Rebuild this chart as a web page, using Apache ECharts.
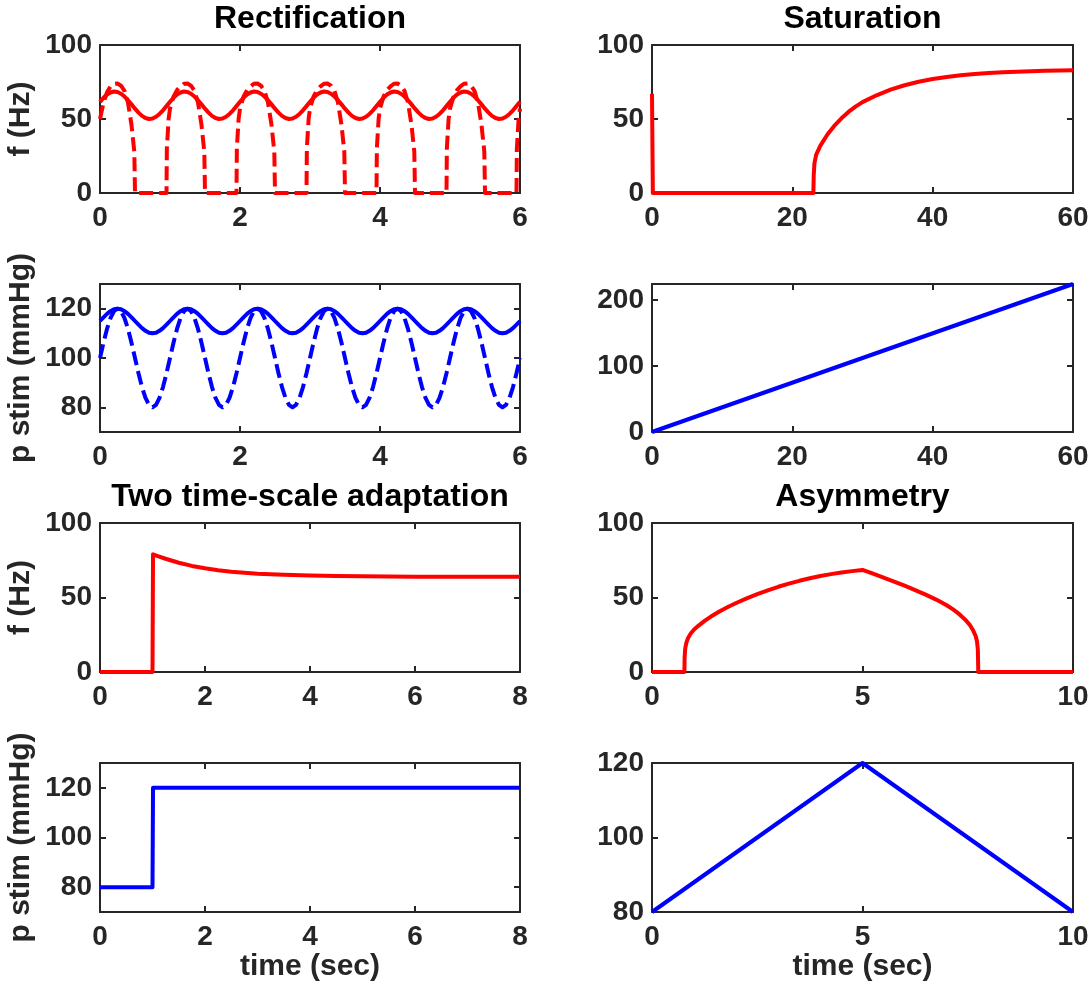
<!DOCTYPE html>
<html>
<head>
<meta charset="utf-8">
<title>Baroreceptor firing-rate responses</title>
<script src="https://cdn.jsdelivr.net/npm/echarts@6/dist/echarts.min.js"></script>
<style>
  html, body { margin: 0; padding: 0; background: #ffffff; }
  #chart { width: 1092px; height: 998px; }
</style>
</head>
<body>
<div id="chart"></div>
<script>
// ---------- Rectification (sinusoidal pressure, 1 Hz) ----------
const rectTime = [
  0,0.05,0.1,0.15,0.2,0.25,0.3,0.35,0.4,0.45,0.5,0.55,0.6,0.65,0.7,0.75,0.8,0.85,0.9,0.95,
  1,1.05,1.1,1.15,1.2,1.25,1.3,1.35,1.4,1.45,1.5,1.55,1.6,1.65,1.7,1.75,1.8,1.85,1.9,1.95,
  2,2.05,2.1,2.15,2.2,2.25,2.3,2.35,2.4,2.45,2.5,2.55,2.6,2.65,2.7,2.75,2.8,2.85,2.9,2.95,
  3,3.05,3.1,3.15,3.2,3.25,3.3,3.35,3.4,3.45,3.5,3.55,3.6,3.65,3.7,3.75,3.8,3.85,3.9,3.95,
  4,4.05,4.1,4.15,4.2,4.25,4.3,4.35,4.4,4.45,4.5,4.55,4.6,4.65,4.7,4.75,4.8,4.85,4.9,4.95,
  5,5.05,5.1,5.15,5.2,5.25,5.3,5.35,5.4,5.45,5.5,5.55,5.6,5.65,5.7,5.75,5.8,5.85,5.9,5.95,
  6
];
// firing rate for the small-amplitude stimulus (solid)
const rectRateSmall = [
  61.6,64.3,66.5,67.9,68.6,68.3,67.1,65.2,62.7,59.9,57,54.3,52.1,50.7,50,50.3,51.5,53.4,55.9,58.7,
  61.6,64.3,66.5,67.9,68.6,68.3,67.1,65.2,62.7,59.9,57,54.3,52.1,50.7,50,50.3,51.5,53.4,55.9,58.7,
  61.6,64.3,66.5,67.9,68.6,68.3,67.1,65.2,62.7,59.9,57,54.3,52.1,50.7,50,50.3,51.5,53.4,55.9,58.7,
  61.6,64.3,66.5,67.9,68.6,68.3,67.1,65.2,62.7,59.9,57,54.3,52.1,50.7,50,50.3,51.5,53.4,55.9,58.7,
  61.6,64.3,66.5,67.9,68.6,68.3,67.1,65.2,62.7,59.9,57,54.3,52.1,50.7,50,50.3,51.5,53.4,55.9,58.7,
  61.6,64.3,66.5,67.9,68.6,68.3,67.1,65.2,62.7,59.9,57,54.3,52.1,50.7,50,50.3,51.5,53.4,55.9,58.7,
  61.6
];
// small-amplitude pressure (solid)
const rectPressSmall = [
  115,116.5,117.9,119,119.8,120,119.8,119,117.9,116.5,115,113.5,112.1,111,110.2,110,110.2,111,112.1,113.5,
  115,116.5,117.9,119,119.8,120,119.8,119,117.9,116.5,115,113.5,112.1,111,110.2,110,110.2,111,112.1,113.5,
  115,116.5,117.9,119,119.8,120,119.8,119,117.9,116.5,115,113.5,112.1,111,110.2,110,110.2,111,112.1,113.5,
  115,116.5,117.9,119,119.8,120,119.8,119,117.9,116.5,115,113.5,112.1,111,110.2,110,110.2,111,112.1,113.5,
  115,116.5,117.9,119,119.8,120,119.8,119,117.9,116.5,115,113.5,112.1,111,110.2,110,110.2,111,112.1,113.5,
  115,116.5,117.9,119,119.8,120,119.8,119,117.9,116.5,115,113.5,112.1,111,110.2,110,110.2,111,112.1,113.5,
  115
];
// large-amplitude pressure (dashed)
const rectPressLarge = [
  100,106.2,111.8,116.2,119,120,119,116.2,111.8,106.2,100,93.8,88.2,83.8,81,80,81,83.8,88.2,93.8,
  100,106.2,111.8,116.2,119,120,119,116.2,111.8,106.2,100,93.8,88.2,83.8,81,80,81,83.8,88.2,93.8,
  100,106.2,111.8,116.2,119,120,119,116.2,111.8,106.2,100,93.8,88.2,83.8,81,80,81,83.8,88.2,93.8,
  100,106.2,111.8,116.2,119,120,119,116.2,111.8,106.2,100,93.8,88.2,83.8,81,80,81,83.8,88.2,93.8,
  100,106.2,111.8,116.2,119,120,119,116.2,111.8,106.2,100,93.8,88.2,83.8,81,80,81,83.8,88.2,93.8,
  100,106.2,111.8,116.2,119,120,119,116.2,111.8,106.2,100,93.8,88.2,83.8,81,80,81,83.8,88.2,93.8,
  100
];
// firing rate for the large-amplitude stimulus (dashed), [time, rate]
const rectRateLarge = [
  [0,50],[0.05,61],[0.1,68],[0.15,72],[0.2,73.8],[0.25,74],[0.3,72.5],[0.35,69],[0.4,61],[0.45,46],[0.49,28],[0.5,0],[0.95,0],
  [0.955,30],[0.98,50],[1,57],[1.05,65],[1.1,69.5],[1.15,72],[1.2,73.8],[1.25,74],[1.3,72.5],[1.35,69],[1.4,61],[1.45,46],[1.49,28],[1.5,0],[1.95,0],
  [1.955,30],[1.98,50],[2,57],[2.05,65],[2.1,69.5],[2.15,72],[2.2,73.8],[2.25,74],[2.3,72.5],[2.35,69],[2.4,61],[2.45,46],[2.49,28],[2.5,0],[2.95,0],
  [2.955,30],[2.98,50],[3,57],[3.05,65],[3.1,69.5],[3.15,72],[3.2,73.8],[3.25,74],[3.3,72.5],[3.35,69],[3.4,61],[3.45,46],[3.49,28],[3.5,0],[3.95,0],
  [3.955,30],[3.98,50],[4,57],[4.05,65],[4.1,69.5],[4.15,72],[4.2,73.8],[4.25,74],[4.3,72.5],[4.35,69],[4.4,61],[4.45,46],[4.49,28],[4.5,0],[4.95,0],
  [4.955,30],[4.98,50],[5,57],[5.05,65],[5.1,69.5],[5.15,72],[5.2,73.8],[5.25,74],[5.3,72.5],[5.35,69],[5.4,61],[5.45,46],[5.49,28],[5.5,0],[5.95,0],
  [5.955,30],[5.98,50],[6,57]
];

// ---------- Saturation (slow pressure ramp) ----------
const satRate = [
  [0,67],[0.12,0],[23,0],[23.05,12],[23.15,20],[23.4,26],[24,32],[25,39.5],[26,45.5],[27,50.5],
  [28,54.8],[29,58.4],[30,61.4],[32,66],[34,69.8],[36,72.8],[38,75.2],[40,77],[42,78.4],
  [44,79.5],[46,80.4],[48,81.1],[50,81.6],[52,82],[54,82.3],[56,82.6],[58,82.8],[60,83]
];
const satPress = [[0,0],[60,224]];

// ---------- Two time-scale adaptation (pressure step) ----------
const stepRate = [
  [0,0],[1,0],[1.01,79],[1.1,77.8],[1.25,76],[1.5,73.3],[1.75,71.2],[2,69.6],[2.25,68.3],
  [2.5,67.3],[2.75,66.6],[3,66],[3.25,65.6],[3.5,65.2],[4,64.7],[4.5,64.4],[5,64.2],[5.5,64.1],[6,64],[7,63.9],[8,63.9]
];
const stepPress = [[0,80],[1,80],[1.01,120],[8,120]];

// ---------- Asymmetry (rising then falling ramp) ----------
const asymRate = [
  [0,0],[0.77,0],[0.775,10],[0.79,16],[0.82,20],[0.86,23],[0.92,25.8],[1,28.5],[1.1,31],[1.25,34.3],
  [1.4,37.2],[1.6,40.6],[1.8,43.6],[2,46.3],[2.25,49.4],[2.5,52.2],[2.75,54.8],[3,57.2],[3.25,59.3],
  [3.5,61.2],[3.75,62.9],[4,64.4],[4.25,65.7],[4.5,66.8],[4.75,67.7],[5,68.5],
  [5.25,66],[5.5,63.4],[5.75,60.7],[6,57.9],[6.25,55],[6.5,51.9],[6.75,48.6],[7,44.8],[7.15,42],
  [7.3,38.8],[7.45,34.8],[7.55,31.5],[7.63,27.8],[7.69,24],[7.72,20.5],[7.74,15],[7.75,0],[10,0]
];
const asymPress = [[0,80],[5,120],[10,80]];

// ---------- Axis ticks ----------
const ticksT6 = [0, 2, 4, 6];
const ticksT60 = [0, 20, 40, 60];
const ticksT8 = [0, 2, 4, 6, 8];
const ticksT10 = [0, 5, 10];
const ticksRate = [0, 50, 100];
const ticksPress = [80, 100, 120];
const ticksRamp = [0, 100, 200];

const titles = ['Rectification', 'Saturation', 'Two time-scale adaptation', 'Asymmetry'];
const rateLabel = 'f (Hz)';
const pressLabel = 'p stim (mmHg)';
const timeLabel = 'time (sec)';

// ---------- Layout ----------
const FONT = '"Liberation Sans", Arial, Helvetica, sans-serif';
const AXIS_COLOR = '#262626';
const RED = '#ff0000';
const BLUE = '#0000ff';
const cols = [{ left: 100, width: 420 }, { left: 652, width: 421 }];
const rows = [{ top: 45, height: 148 }, { top: 284, height: 148 }, { top: 523, height: 149 }, { top: 763, height: 149 }];

const zip = (xs, ys) => xs.map((x, i) => [x, ys[i]]);

const panels = [
  { row: 0, col: 0, x: [0, 6], xt: ticksT6, y: [0, 100], yt: ticksRate, yName: rateLabel,
    lines: [
      { data: zip(rectTime, rectRateSmall), color: RED, dash: 'solid' },
      { data: rectRateLarge, color: RED, dash: [14, 6] }
    ] },
  { row: 0, col: 1, x: [0, 60], xt: ticksT60, y: [0, 100], yt: ticksRate,
    lines: [{ data: satRate, color: RED, dash: 'solid' }] },
  { row: 1, col: 0, x: [0, 6], xt: ticksT6, y: [70, 130], yt: ticksPress, yName: pressLabel,
    lines: [
      { data: zip(rectTime, rectPressSmall), color: BLUE, dash: 'solid' },
      { data: zip(rectTime, rectPressLarge), color: BLUE, dash: [14, 6] }
    ] },
  { row: 1, col: 1, x: [0, 60], xt: ticksT60, y: [0, 224], yt: ticksRamp,
    lines: [{ data: satPress, color: BLUE, dash: 'solid' }] },
  { row: 2, col: 0, x: [0, 8], xt: ticksT8, y: [0, 100], yt: ticksRate, yName: rateLabel,
    lines: [{ data: stepRate, color: RED, dash: 'solid' }] },
  { row: 2, col: 1, x: [0, 10], xt: ticksT10, y: [0, 100], yt: ticksRate,
    lines: [{ data: asymRate, color: RED, dash: 'solid' }] },
  { row: 3, col: 0, x: [0, 8], xt: ticksT8, y: [70, 130], yt: ticksPress, yName: pressLabel, xName: timeLabel,
    lines: [{ data: stepPress, color: BLUE, dash: 'solid' }] },
  { row: 3, col: 1, x: [0, 10], xt: ticksT10, y: [80, 120], yt: ticksPress, xName: timeLabel,
    lines: [{ data: asymPress, color: BLUE, dash: 'solid' }] }
];

const grid = [], xAxis = [], yAxis = [], series = [], title = [];

const tickLabel = { fontFamily: FONT, fontSize: 28, fontWeight: 'bold', color: AXIS_COLOR };
const axisNameStyle = { fontFamily: FONT, fontSize: 30, fontWeight: 'bold', color: AXIS_COLOR };

function axisBase(min, max, ticks, position, showLabels, margin) {
  return {
    type: 'value', min: min, max: max, position: position,
    axisLine: { show: true, onZero: false, lineStyle: { color: AXIS_COLOR, width: 2 } },
    axisTick: { show: true, inside: true, length: 6, customValues: ticks, lineStyle: { color: AXIS_COLOR, width: 2 } },
    axisLabel: Object.assign({ show: showLabels, margin: margin, customValues: ticks }, tickLabel),
    splitLine: { show: false }
  };
}

panels.forEach((p, i) => {
  const c = cols[p.col], r = rows[p.row];
  grid.push({ left: c.left, top: r.top, width: c.width, height: r.height, outerBoundsMode: 'none', containLabel: false });

  const xb = axisBase(p.x[0], p.x[1], p.xt, 'bottom', true, 11);
  xb.gridIndex = i;
  if (p.xName) {
    Object.assign(xb, { name: p.xName, nameLocation: 'middle', nameGap: 36, nameTextStyle: axisNameStyle });
  }
  const xt = axisBase(p.x[0], p.x[1], p.xt, 'top', false, 8);
  xt.gridIndex = i;
  xAxis.push(xb, xt);

  const yl = axisBase(p.y[0], p.y[1], p.yt, 'left', true, 8);
  yl.gridIndex = i;
  if (p.yName) {
    Object.assign(yl, { name: p.yName, nameLocation: 'middle', nameRotate: 90, nameGap: 64, nameTextStyle: axisNameStyle });
  }
  const yr = axisBase(p.y[0], p.y[1], p.yt, 'right', false, 8);
  yr.gridIndex = i;
  yAxis.push(yl, yr);

  p.lines.forEach(l => {
    series.push({
      type: 'line', xAxisIndex: 2 * i, yAxisIndex: 2 * i,
      data: l.data, showSymbol: false, symbol: 'none', clip: false,
      lineStyle: { color: l.color, width: 4, type: l.dash, cap: 'butt', join: 'round' }
    });
  });
});

// panel titles, centred over each column
[[0, 0], [0, 1], [2, 0], [2, 1]].forEach(([r, c], k) => {
  title.push({
    text: titles[k],
    left: cols[c].left + cols[c].width / 2,
    top: rows[r].top - 42,
    textAlign: 'center',
    padding: 0,
    textStyle: { fontFamily: FONT, fontSize: 32, fontWeight: 'bold', color: '#000000' }
  });
});

const chart = echarts.init(document.getElementById('chart'), null, { renderer: 'canvas' });
chart.setOption({
  animation: false,
  backgroundColor: '#ffffff',
  title: title,
  grid: grid,
  xAxis: xAxis,
  yAxis: yAxis,
  series: series
});
</script>
</body>
</html>
